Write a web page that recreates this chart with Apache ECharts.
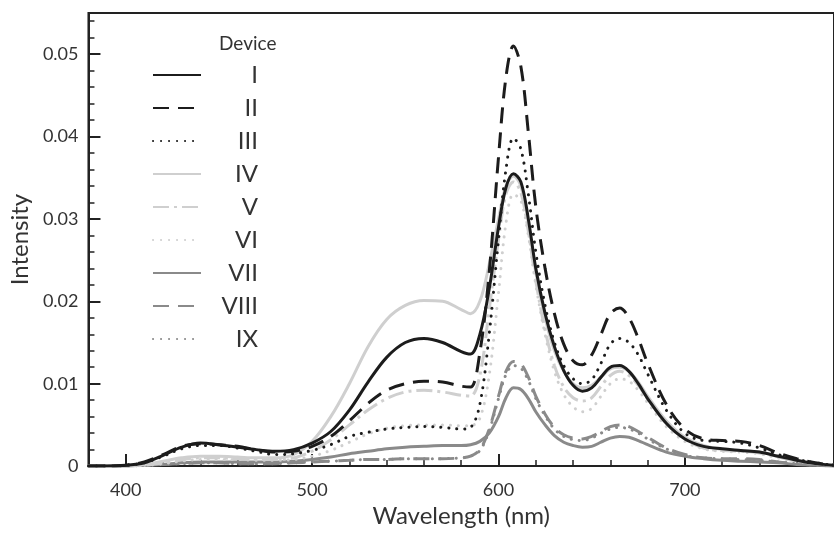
<!DOCTYPE html>
<html>
<head>
<meta charset="utf-8">
<script src="https://cdn.jsdelivr.net/npm/echarts@6/dist/echarts.min.js"></script>
<style>
html,body{margin:0;padding:0;background:#fff;}
#chart{width:834px;height:533px;}
</style>
</head>
<body>
<div id="chart"></div>
<script>
// Wavelength sample points (nm)
var wavelengths = [380,390,400,410,420,430,440,450,460,470,480,490,500,510,520,530,540,550,560,570,580,585,590,595,600,604,608,612,616,620,625,630,635,640,645,650,655,660,665,670,675,680,690,700,710,720,730,740,750,760,770,780];

var deviceI    = [0,0,0.0001,0.0004,0.0013,0.0023,0.0028,0.0026,0.0023,0.0020,0.0018,0.0020,0.0028,0.0042,0.0068,0.0102,0.0132,0.0150,0.0155,0.0150,0.0139,0.0136,0.0160,0.0215,0.0290,0.0338,0.0355,0.0345,0.0300,0.0240,0.0185,0.0145,0.0116,0.0098,0.0091,0.0095,0.0108,0.0120,0.0122,0.0115,0.0100,0.0082,0.0052,0.0033,0.0024,0.0021,0.0019,0.0017,0.0012,0.0007,0.0003,0.0001];
var deviceII   = [0,0,0.0001,0.0005,0.0014,0.0024,0.0027,0.0026,0.0024,0.0020,0.0017,0.0018,0.0024,0.0036,0.0055,0.0076,0.0092,0.0100,0.0103,0.0102,0.0097,0.0096,0.0138,0.0235,0.0375,0.0472,0.0510,0.0485,0.0405,0.0315,0.0240,0.0185,0.0148,0.0128,0.0123,0.0135,0.0160,0.0185,0.0192,0.0180,0.0155,0.0125,0.0075,0.0045,0.0033,0.0031,0.0030,0.0025,0.0016,0.0009,0.0004,0.0001];
var deviceIII  = [0,0,0.0001,0.0004,0.0012,0.0021,0.0025,0.0025,0.0022,0.0018,0.0014,0.0015,0.0019,0.0026,0.0036,0.0041,0.0045,0.0047,0.0048,0.0047,0.0045,0.0047,0.0075,0.0160,0.0275,0.0360,0.0398,0.0385,0.0330,0.0260,0.0195,0.0150,0.0122,0.0106,0.0100,0.0105,0.0125,0.0148,0.0155,0.0150,0.0135,0.0112,0.0068,0.0040,0.0031,0.0030,0.0028,0.0022,0.0014,0.0008,0.0004,0.0001];
var deviceIV   = [0,0,0,0.0002,0.0006,0.0010,0.0012,0.0012,0.0011,0.0010,0.0010,0.0014,0.0030,0.0060,0.0100,0.0145,0.0178,0.0195,0.0201,0.0200,0.0190,0.0185,0.0200,0.0245,0.0300,0.0340,0.0352,0.0340,0.0295,0.0235,0.0180,0.0140,0.0115,0.0100,0.0095,0.0098,0.0108,0.0118,0.0120,0.0115,0.0102,0.0085,0.0055,0.0035,0.0025,0.0020,0.0019,0.0017,0.0012,0.0007,0.0003,0.0001];
var deviceV    = [0,0,0,0.0001,0.0004,0.0008,0.0010,0.0010,0.0009,0.0008,0.0008,0.0010,0.0018,0.0032,0.0050,0.0068,0.0082,0.0090,0.0092,0.0090,0.0086,0.0085,0.0110,0.0190,0.0275,0.0330,0.0345,0.0332,0.0285,0.0225,0.0165,0.0122,0.0096,0.0083,0.0079,0.0083,0.0097,0.0110,0.0115,0.0110,0.0098,0.0082,0.0052,0.0033,0.0022,0.0019,0.0018,0.0016,0.0011,0.0006,0.0003,0.0001];
var deviceVI   = [0,0,0,0.0001,0.0003,0.0006,0.0008,0.0008,0.0008,0.0007,0.0007,0.0008,0.0012,0.0019,0.0029,0.0039,0.0046,0.0049,0.0050,0.0050,0.0049,0.0049,0.0058,0.0110,0.0210,0.0295,0.0330,0.0322,0.0280,0.0220,0.0160,0.0115,0.0087,0.0072,0.0066,0.0070,0.0085,0.0100,0.0106,0.0103,0.0092,0.0077,0.0048,0.0030,0.0021,0.0018,0.0017,0.0015,0.0010,0.0006,0.0003,0.0001];
var deviceVII  = [0,0,0,0.0001,0.0002,0.0004,0.0005,0.0005,0.0005,0.0005,0.0005,0.0006,0.0008,0.0011,0.0015,0.0018,0.0021,0.0023,0.0024,0.0025,0.0025,0.0026,0.0030,0.0040,0.0060,0.0083,0.0095,0.0093,0.0082,0.0066,0.0050,0.0037,0.0029,0.0025,0.0023,0.0024,0.0029,0.0034,0.0036,0.0035,0.0031,0.0026,0.0017,0.0012,0.0009,0.0007,0.0006,0.0005,0.0004,0.0002,0.0001,0];
var deviceVIII = [0,0,0,0.0001,0.0002,0.0003,0.0004,0.0004,0.0003,0.0003,0.0003,0.0004,0.0005,0.0006,0.0007,0.0008,0.0008,0.0009,0.0009,0.0009,0.0010,0.0012,0.0020,0.0045,0.0085,0.0115,0.0127,0.0124,0.0108,0.0085,0.0063,0.0047,0.0038,0.0034,0.0033,0.0036,0.0042,0.0048,0.0050,0.0048,0.0042,0.0035,0.0022,0.0014,0.0010,0.0009,0.0009,0.0008,0.0005,0.0003,0.0001,0];
var deviceIX   = [0,0,0,0.0001,0.0002,0.0003,0.0004,0.0004,0.0003,0.0003,0.0003,0.0004,0.0005,0.0006,0.0007,0.0008,0.0008,0.0009,0.0009,0.0009,0.0010,0.0012,0.0019,0.0043,0.0082,0.0111,0.0122,0.0119,0.0104,0.0082,0.0061,0.0045,0.0036,0.0032,0.0031,0.0034,0.0040,0.0045,0.0047,0.0045,0.0040,0.0033,0.0021,0.0013,0.0010,0.0009,0.0008,0.0007,0.0005,0.0003,0.0001,0];

var deviceNames = ['I','II','III','IV','V','VI','VII','VIII','IX'];

// Axis ticks
var xMajorTicks = [400,500,600,700];
var xMinorTicks = [380,400,420,440,460,480,500,520,540,560,580,600,620,640,660,680,700,720,740,760,780];
var yMajorTicks = [0,0.01,0.02,0.03,0.04,0.05];
var yMinorTicks = [0,0.002,0.004,0.006,0.008,0.01,0.012,0.014,0.016,0.018,0.02,0.022,0.024,0.026,0.028,0.03,0.032,0.034,0.036,0.038,0.04,0.042,0.044,0.046,0.048,0.05,0.052,0.054];

var FONT = 'Lato, "Open Sans", sans-serif';
var BLACK = '#1c1c1c', LIGHT = '#cfcfcf', MID = '#8a8a8a';

var seriesValues = [deviceI,deviceII,deviceIII,deviceIV,deviceV,deviceVI,deviceVII,deviceVIII,deviceIX];
var styles = [
  {color: BLACK, type: 'solid', cap: 'butt'},
  {color: BLACK, type: [16, 9], cap: 'butt'},
  {color: BLACK, type: [0.1, 7.9], cap: 'round'},
  {color: LIGHT, type: 'solid', cap: 'butt'},
  {color: LIGHT, type: [16, 5, 3, 5], cap: 'butt'},
  {color: LIGHT, type: [0.1, 7.9], cap: 'round'},
  {color: MID, type: 'solid', cap: 'butt'},
  {color: MID, type: [16, 9], cap: 'butt'},
  {color: MID, type: [0.1, 7.9], cap: 'round'}
];

function pairs(vals) {
  return wavelengths.map(function (w, i) { return [w, vals[i]]; });
}

var series = deviceNames.map(function (name, k) {
  var s = styles[k];
  return {
    name: name,
    type: 'line',
    data: pairs(seriesValues[k]),
    xAxisIndex: 0,
    yAxisIndex: 0,
    smooth: 0.35,
    symbol: 'none',
    z: 10 - k,
    color: s.color,
    lineStyle: {color: s.color, width: 3, type: s.type, cap: s.cap}
  };
});

var chart = echarts.init(document.getElementById('chart'), null, {renderer: 'canvas'});
chart.setOption({
  animation: false,
  backgroundColor: '#fff',
  textStyle: {fontFamily: FONT},
  title: {
    text: 'Device',
    left: 219,
    top: 34,
    padding: 0,
    textStyle: {fontFamily: FONT, fontSize: 19, fontWeight: 'normal', color: '#333'}
  },
  legend: {
    orient: 'vertical',
    left: 152,
    top: 63,
    padding: 0,
    itemWidth: 48,
    itemHeight: 14,
    itemGap: 9,
    data: deviceNames,
    itemStyle: {opacity: 0},
    formatter: function (n) { return '{r|' + n + '}'; },
    textStyle: {
      fontFamily: FONT,
      rich: {r: {width: 52, align: 'right', fontSize: 24, lineHeight: 24, color: '#333', fontFamily: FONT}}
    }
  },
  grid: {
    left: 86.5, top: 13, width: 756, height: 460,
    show: true, borderColor: '#222', borderWidth: 2, backgroundColor: 'transparent'
  },
  xAxis: [
    {
      type: 'value', min: 380, max: 780, position: 'bottom',
      name: 'Wavelength (nm)', nameLocation: 'middle', nameGap: 37,
      nameTextStyle: {fontFamily: FONT, fontSize: 24, color: '#333'},
      axisLine: {show: true, lineStyle: {color: '#222', width: 2}},
      axisTick: {show: true, inside: true, length: 12, customValues: xMajorTicks, lineStyle: {color: '#222', width: 2}},
      axisLabel: {show: true, customValues: xMajorTicks, fontFamily: FONT, fontSize: 18, color: '#333', margin: 15},
      splitLine: {show: false}
    },
    {
      type: 'value', min: 380, max: 780, position: 'bottom',
      axisLine: {show: false},
      axisTick: {show: true, inside: true, length: 6, customValues: xMinorTicks, lineStyle: {color: '#222', width: 1.5}},
      axisLabel: {show: false},
      splitLine: {show: false}
    }
  ],
  yAxis: [
    {
      type: 'value', min: 0, max: 0.055, position: 'left',
      name: 'Intensity', nameLocation: 'middle', nameGap: 52,
      nameTextStyle: {fontFamily: FONT, fontSize: 24, color: '#333'},
      axisLine: {show: true, lineStyle: {color: '#222', width: 2}},
      axisTick: {show: true, inside: true, length: 12, customValues: yMajorTicks, lineStyle: {color: '#222', width: 2}},
      axisLabel: {show: true, customValues: yMajorTicks, fontFamily: FONT, fontSize: 18, color: '#333', margin: 10,
        formatter: function (v) { return v === 0 ? '0' : String(Math.round(v * 100) / 100); }},
      splitLine: {show: false}
    },
    {
      type: 'value', min: 0, max: 0.055, position: 'left',
      axisLine: {show: false},
      axisTick: {show: true, inside: true, length: 6, customValues: yMinorTicks, lineStyle: {color: '#222', width: 1.5}},
      axisLabel: {show: false},
      splitLine: {show: false}
    }
  ],
  series: series
});
</script>
</body>
</html>
